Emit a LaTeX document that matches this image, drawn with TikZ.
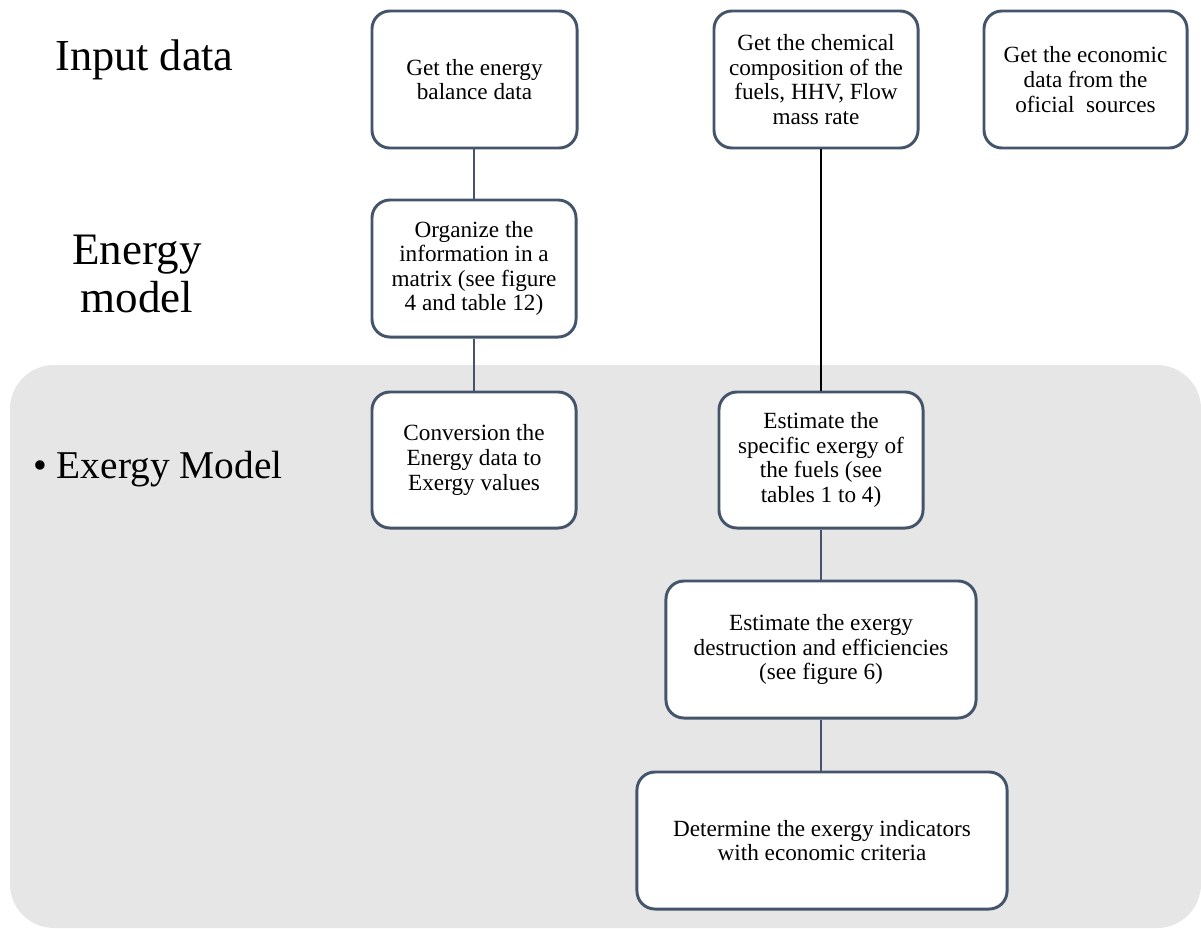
\documentclass[tikz,border=0pt]{standalone}
\usepackage{fontspec}
\setmainfont{Liberation Serif}
\definecolor{boxline}{HTML}{44546A}
\definecolor{panel}{HTML}{E6E6E6}
\begin{document}
\begin{tikzpicture}[x=0.025cm,y=-0.025cm,
  stepbox/.style={draw=boxline, line width=2.1pt, fill=white,
    rounded corners=0.45cm, align=center, inner sep=0pt,
    minimum height=3.425cm, font=\fontsize{16.5}{17.5}\selectfont},
  link/.style={draw=boxline, line width=1.6pt},
  rowlabel/.style={inner sep=0pt, align=center}]
\useasboundingbox (0,0) rectangle (1201,928);

% shaded band of the exergy model
\fill[panel, rounded corners=1.1cm] (10,365) rectangle (1201,928);

% row labels
\node[rowlabel, anchor=base west, font=\fontsize{31.5}{33}\selectfont] (lin) at (55,70) {Input data};
\node[rowlabel, anchor=base, font=\fontsize{32}{33.5}\selectfont] (len) at (137,312) {Energy\\model};
\node[rowlabel, anchor=base west, font=\fontsize{28}{30}\selectfont] (lex) at (33,478) {• Exergy Model};

% steps
\node[stepbox, minimum width=5.125cm] (b1) at (474.5,79.5) {Get the energy\\balance data};
\node[stepbox, minimum width=5.1cm] (b2) at (816,79.5) {Get the chemical\\composition of the\\fuels, HHV, Flow\\mass rate};
\node[stepbox, minimum width=5.075cm] (b3) at (1085.5,79.5) {Get the economic\\data from the\\oficial\ \ sources};
\node[stepbox, minimum width=5.1cm] (b4) at (474,268.5) {Organize the\\information in a\\matrix (see figure\\4 and table 12)};
\node[stepbox, minimum width=5.1cm, minimum height=3.4cm] (b5) at (474,460) {Conversion the\\Energy data to\\Exergy values};
\node[stepbox, minimum width=5.1cm, minimum height=3.4cm] (b6) at (821,460) {Estimate the\\specific exergy of\\the fuels (see\\tables 1 to 4)};
\node[stepbox, minimum width=7.75cm] (b7) at (821,649.5) {Estimate the exergy\\destruction and efficiencies\\(see figure 6)};
\node[stepbox, minimum width=9.25cm] (b8) at (822,840.5) {Determine the exergy indicators\\with economic criteria};

% connectors
\draw[link] (b4.north |- b1.south) -- (b4.north);
\draw[link] (b4.south) -- (b5.north);
\draw[black, line width=1.6pt] (b6.north |- b2.south) -- (b6.north);
\draw[link] (b6.south) -- (b7.north);
\draw[link] (b7.south) -- (b7.south |- b8.north);
\end{tikzpicture}
\end{document}
